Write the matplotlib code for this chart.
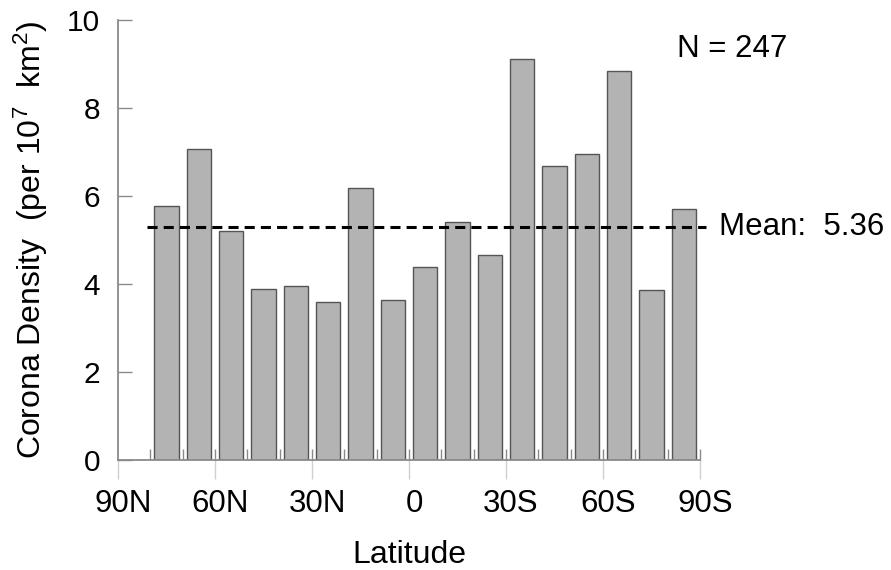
import matplotlib
matplotlib.use("Agg")
import matplotlib.pyplot as plt
import matplotlib.transforms as mtransforms

# latitude bin centres (N positive), 10 degree bins
lat_centers = [75, 65, 55, 45, 35, 25, 15, 5, -5, -15, -25, -35, -45, -55, -65, -75, -85]
density = [5.77, 7.06, 5.21, 3.88, 3.95, 3.58, 6.18, 3.63, 4.38,
           5.42, 4.67, 9.11, 6.68, 6.95, 8.83, 3.86, 5.70]

tick_pos = [90, 60, 30, 0, -30, -60, -90]
tick_labels = ['90N', '60N', '30N', '0', '30S', '60S', '90S']
y_ticks = [0, 2, 4, 6, 8, 10]

mean_value = 5.3
mean_text = 'Mean:  5.36'
n_text = 'N = 247'

plt.rcParams['font.family'] = ['Liberation Sans', 'DejaVu Sans']
plt.rcParams['mathtext.fontset'] = 'custom'
plt.rcParams['mathtext.rm'] = 'Liberation Sans'
plt.rcParams['mathtext.it'] = 'Liberation Sans'

fig = plt.figure(figsize=(8.91, 5.70), dpi=100)
ax = fig.add_axes([118 / 891, 110 / 570, 582 / 891, 440 / 570])

ax.bar(lat_centers, density, width=7.5, color='#b3b3b3',
       edgecolor='#555555', linewidth=1.0, zorder=2)

# mean line
ax.plot([81, -92], [mean_value, mean_value], color='black', lw=2.2,
        dashes=(3.3, 2.0), clip_on=False, zorder=3)
ax.text(-95.9, mean_value, mean_text, fontsize=22.5, va='center', ha='left')
ax.text(-82.9, 9.35, n_text, fontsize=22.5, va='center', ha='left')

ax.set_xlim(90, -90)
ax.set_ylim(0, 10)

for side in ['top', 'right']:
    ax.spines[side].set_visible(False)
for side in ['left', 'bottom']:
    ax.spines[side].set_color('#8a8a8a')
    ax.spines[side].set_linewidth(1.3)

ax.set_xticks(tick_pos)
ax.set_xticklabels(tick_labels, fontsize=22.5)
ax.set_xticks(list(range(-90, 81, 10)), minor=True)
ax.xaxis.remove_overlapping_locs = False
ax.tick_params(axis='x', which='major', direction='out', length=14,
               color='#d0d0d0', width=1, pad=7)
ax.tick_params(axis='x', which='minor', direction='in', length=8,
               color='#8a8a8a', width=1)
offset = mtransforms.ScaledTranslation(0.05, 0, fig.dpi_scale_trans)
for lbl in ax.get_xticklabels():
    lbl.set_transform(lbl.get_transform() + offset)

ax.set_yticks(y_ticks)
ax.set_yticklabels([str(v) for v in y_ticks], fontsize=21.5)
ax.tick_params(axis='y', direction='in', length=10, color='#8a8a8a',
               width=1, pad=13)

ax.set_xlabel('Latitude', fontsize=23, labelpad=15)
ax.set_ylabel(r'Corona Density  (per 10$^{7}$  km$^{2}$)', fontsize=23, labelpad=12)

fig.savefig('out.png', dpi=100)
